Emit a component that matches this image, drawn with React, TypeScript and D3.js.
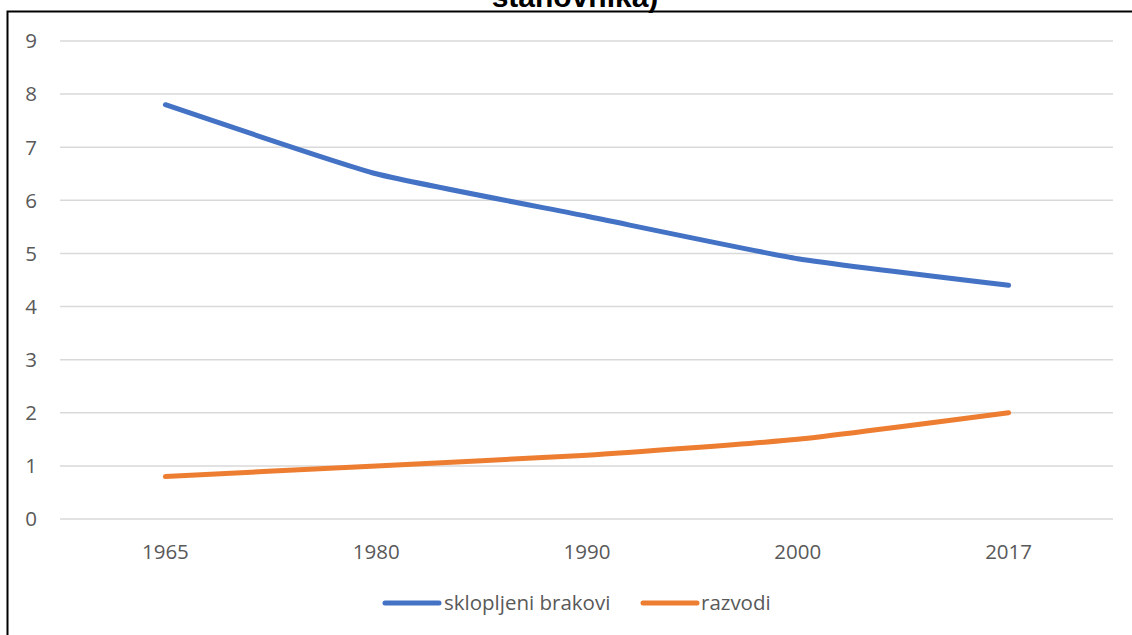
import { useEffect, useRef } from 'react';
import * as d3 from 'd3';

const years = ['1965', '1980', '1990', '2000', '2017'];
const brakovi = [7.8, 6.5, 5.7, 4.9, 4.4];
const razvodi = [0.8, 1.0, 1.2, 1.5, 2.0];
const yTicks = [0, 1, 2, 3, 4, 5, 6, 7, 8, 9];
const seriesNames = ['sklopljeni brakovi', 'razvodi'];
const titleText = 'stanovnika)';

export default function App() {
  const svgRef = useRef<SVGSVGElement>(null);

  useEffect(() => {
    if (!svgRef.current) return;
    const svg = d3.select(svgRef.current);
    svg.selectAll('*').remove();

    const width = 1132;
    const height = 635;
    const plot = { left: 60, right: 1114, top: 41, bottom: 519 };
    const font = '"Open Sans", "Noto Sans", sans-serif';
    const textColor = '#595959';
    const colors = ['#4472C4', '#ED7D31'];

    svg.append('rect').attr('width', width).attr('height', height).attr('fill', '#fff');

    // chart frame (extends past the visible area on right and bottom)
    svg.append('rect')
      .attr('x', 7.5)
      .attr('y', 11.5)
      .attr('width', width + 20)
      .attr('height', height + 20)
      .attr('fill', 'none')
      .attr('stroke', '#000')
      .attr('stroke-width', 2);

    // title, cut off at the top as in the source
    svg.append('text')
      .attr('x', 575)
      .attr('y', 7)
      .attr('text-anchor', 'middle')
      .attr('font-family', '"Liberation Sans", Arial, sans-serif')
      .attr('font-weight', 'bold')
      .attr('font-size', 30)
      .attr('fill', '#000')
      .text(titleText);

    const x = d3.scaleBand<string>()
      .domain(years)
      .range([plot.left, plot.right]);

    const y = d3.scaleLinear()
      .domain([0, 9])
      .range([plot.bottom, plot.top]);

    // gridlines
    svg.append('g')
      .selectAll('line')
      .data(yTicks)
      .join('line')
      .attr('x1', plot.left)
      .attr('x2', plot.right - 1)
      .attr('y1', d => y(d))
      .attr('y2', d => y(d))
      .attr('stroke', '#D9D9D9')
      .attr('stroke-width', 1.5);

    // y labels
    svg.append('g')
      .selectAll('text')
      .data(yTicks)
      .join('text')
      .attr('x', 37)
      .attr('y', d => y(d))
      .attr('dy', '0.36em')
      .attr('text-anchor', 'end')
      .attr('font-family', font)
      .attr('font-size', 20.5)
      .attr('fill', textColor)
      .text(d => d);

    // x labels
    svg.append('g')
      .selectAll('text')
      .data(years)
      .join('text')
      .attr('x', d => (x(d) ?? 0) + x.bandwidth() / 2)
      .attr('y', 559)
      .attr('text-anchor', 'middle')
      .attr('font-family', font)
      .attr('font-size', 20.5)
      .attr('fill', textColor)
      .text(d => d);

    const line = d3.line<number>()
      .x((_, i) => (x(years[i]) ?? 0) + x.bandwidth() / 2)
      .y(d => y(d))
      .curve(d3.curveCardinal.tension(0.55));

    [brakovi, razvodi].forEach((series, i) => {
      svg.append('path')
        .datum(series)
        .attr('fill', 'none')
        .attr('stroke', colors[i])
        .attr('stroke-width', 5)
        .attr('stroke-linecap', 'round')
        .attr('stroke-linejoin', 'round')
        .attr('d', line);
    });

    // legend
    const legendX = [385, 643];
    seriesNames.forEach((name, i) => {
      const g = svg.append('g').attr('transform', `translate(${legendX[i]},603)`);
      g.append('line')
        .attr('x1', 0)
        .attr('x2', 54)
        .attr('stroke', colors[i])
        .attr('stroke-width', 5)
        .attr('stroke-linecap', 'round');
      g.append('text')
        .attr('x', i === 0 ? 59 : 58)
        .attr('dy', '0.36em')
        .attr('font-family', font)
        .attr('font-size', 20.5)
        .attr('fill', textColor)
        .text(name);
    });
  }, []);

  return (
    <svg
      ref={svgRef}
      width={1132}
      height={635}
      style={{ position: 'absolute', left: 0, top: 0, display: 'block' }}
    />
  );
}
